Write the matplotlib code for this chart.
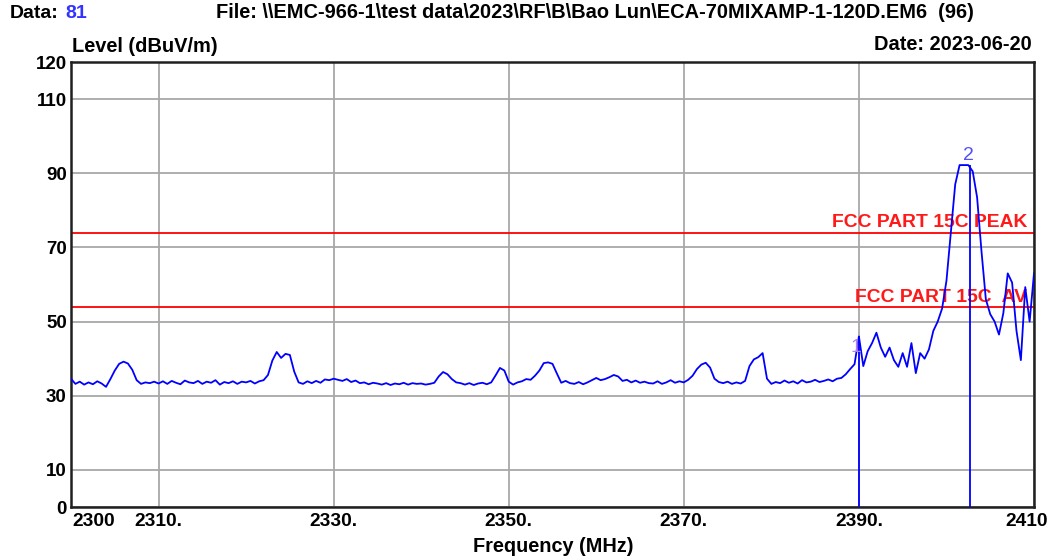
import numpy as np
import matplotlib
matplotlib.use('Agg')
import matplotlib.pyplot as plt

plt.rcParams['font.family'] = ['Liberation Sans', 'DejaVu Sans']

# sweep: 2300 - 2410 MHz, 0.5 MHz steps
freq_start = 2300.0
freq_stop = 2410.0
freq_step = 0.5

# measured level (dBuV/m), one row per 10 MHz
level = [
    34.6, 33.2, 33.8, 33.0, 33.6, 33.1, 33.9, 33.3, 32.4, 34.5, 36.8, 38.6, 39.2, 38.7, 37.0, 34.2, 33.2, 33.6, 33.4, 33.8,
    33.3, 33.9, 33.2, 34.0, 33.5, 33.1, 34.1, 33.6, 33.4, 34.0, 33.2, 33.8, 33.5, 34.2, 33.0, 33.7, 33.4, 33.9, 33.2, 33.8,
    33.6, 34.0, 33.3, 33.9, 34.2, 35.6, 39.5, 41.8, 40.2, 41.3, 41.0, 36.5, 33.6, 33.2, 33.9, 33.4, 34.0, 33.5, 34.4, 34.2,
    34.6, 34.3, 34.0, 34.5, 33.7, 34.1, 33.4, 33.6, 33.1, 33.5, 33.3, 33.0, 33.4, 32.9, 33.3, 33.1, 33.5, 33.0, 33.4, 33.2,
    33.3, 33.0, 33.2, 33.5, 35.2, 36.4, 35.8, 34.5, 33.6, 33.4, 33.0, 33.4, 32.9, 33.3, 33.5, 33.1, 33.6, 35.5, 37.5, 36.8,
    33.8, 33.0, 33.6, 33.9, 34.5, 34.3, 35.4, 36.8, 38.8, 39.0, 38.6, 36.0, 33.5, 34.0, 33.4, 33.2, 33.7, 33.1, 33.6, 34.2,
    34.8, 34.2, 34.5, 35.0, 35.6, 35.2, 34.0, 34.3, 33.6, 34.1, 33.5, 33.8, 33.4, 33.3, 33.9, 33.2, 33.6, 34.2, 33.5, 33.9,
    33.6, 34.3, 35.4, 37.2, 38.4, 38.9, 37.6, 34.6, 33.7, 33.4, 33.8, 33.2, 33.6, 33.3, 34.0, 38.0, 39.8, 40.4, 41.5, 34.6,
    33.2, 33.7, 33.4, 34.1, 33.5, 33.9, 33.3, 34.2, 33.6, 33.8, 34.3, 33.7, 34.0, 34.4, 33.9, 34.6, 34.8, 35.8, 37.2, 38.5,
    46.0, 38.0, 42.0, 44.2, 47.0, 43.0, 40.5, 43.0, 39.6, 37.8, 41.5, 37.8, 44.2, 36.1, 41.5, 40.0, 42.5, 47.5, 50.0, 53.5,
    61.0, 74.0, 87.0, 92.2, 92.2, 92.2, 90.5, 83.5, 69.0, 56.0, 52.0, 50.0, 46.5, 52.3, 63.0, 60.5, 47.5, 39.6, 59.3, 50.0,
    63.0,
]

limit_levels = [74, 54]
limit_labels = ['FCC PART 15C PEAK', 'FCC PART 15C  AV']

marker_freq = [2390.0, 2402.7]
marker_level = [46.0, 92.2]
marker_labels = ['1', '2']

xticks = [2300, 2310, 2330, 2350, 2370, 2390, 2410]
xtick_labels = ['2300', '2310.', '2330.', '2350.', '2370.', '2390.', '2410']
yticks = [0, 10, 30, 50, 70, 90, 110, 120]
ytick_labels = ['0', '10', '30', '50', '70', '90', '110', '120']

file_name = r'File: \\EMC-966-1\test data\2023\RF\B\Bao Lun\ECA-70MIXAMP-1-120D.EM6  (96)'


def draw_chart():
    W, H = 1055, 559
    fig = plt.figure(figsize=(W / 100, H / 100), dpi=100)
    ax = fig.add_axes([71 / W, 52 / H, 963 / W, 445 / H])

    freq = np.arange(freq_start, freq_stop + freq_step / 2, freq_step)
    ax.plot(freq, level, color='#0000ff', lw=1.3, zorder=3)

    # limit lines
    for lvl, lab in zip(limit_levels, limit_labels):
        ax.axhline(lvl, color='#ff0000', lw=1.3, zorder=2)
        ax.text(2409.2, lvl + 1.4, lab, color='#ff1a1a', fontsize=13.9,
                fontweight='bold', ha='right', va='baseline', zorder=2)

    # markers
    ax.vlines(marker_freq, 0, marker_level, color='#0000ff', lw=1.3, zorder=4)
    label_offsets = [(-2, -11), (-1, 4)]
    label_colors = ['#b080f0', '#5050ff']
    for f, lvl, lab, off, c in zip(marker_freq, marker_level, marker_labels,
                                   label_offsets, label_colors):
        ax.annotate(lab, xy=(f, lvl), xytext=off, textcoords='offset points',
                    ha='center', va='baseline', color=c, fontsize=14, zorder=5)

    ax.set_xlim(freq_start, freq_stop)
    ax.set_ylim(0, 120)
    ax.set_xticks(xticks)
    ax.set_xticklabels([])
    ax.set_yticks(yticks)
    ax.set_yticklabels(ytick_labels, fontsize=13.5, fontweight='bold')
    ax.tick_params(length=0)
    ax.tick_params(axis='y', pad=3)
    ax.grid(True, color='#a8a8a8', lw=1.3)
    ax.set_axisbelow(True)
    for s in ax.spines.values():
        s.set_linewidth(1.8)
        s.set_color('#202020')

    # x tick labels, end ones nudged like the original
    for x, lab in zip(xticks, xtick_labels):
        ha, dx = 'center', 0
        if x == freq_start:
            ha, dx = 'left', 1
        elif x == freq_stop:
            dx = -5
        ax.annotate(lab, xy=(x, 0), xycoords=('data', 'axes fraction'),
                    xytext=(dx, -4), textcoords='offset points', ha=ha, va='top',
                    fontsize=13.8, fontweight='bold')

    # header texts
    fig.text(10 / W, 1 - 13 / H, 'Data:', fontsize=14, fontweight='bold', va='center')
    fig.text(65 / W, 1 - 13 / H, '81', fontsize=14, fontweight='bold', va='center',
             color='#3333ff')
    fig.text(216 / W, 1 - 13 / H, file_name, fontsize=14.4, fontweight='bold', va='center')
    fig.text(72 / W, 1 - 46 / H, 'Level (dBuV/m)', fontsize=14.4, fontweight='bold',
             va='center')
    fig.text(1032 / W, 1 - 44 / H, 'Date: 2023-06-20', fontsize=14.4, fontweight='bold',
             va='center', ha='right')
    fig.text(553 / W, 1 - 547 / H, 'Frequency (MHz)', fontsize=14.3, fontweight='bold',
             va='center', ha='center')

    fig.savefig('out.png', dpi=100)


def main():
    draw_chart()


if __name__ == '__main__':
    main()
